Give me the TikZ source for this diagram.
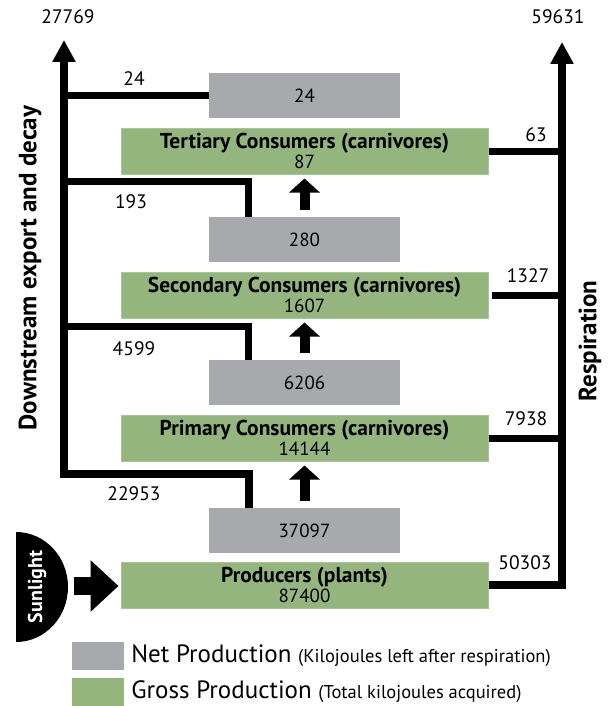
\documentclass[tikz,border=0pt]{standalone}
\usepackage{fontspec}
\setmainfont{PT Sans}
\usetikzlibrary{arrows.meta}
\definecolor{netgrey}{HTML}{A7A9AC}
\definecolor{grossgreen}{HTML}{95B57F}
\definecolor{grossedge}{HTML}{A8C596}
\begin{document}
\begin{tikzpicture}[x=1pt,y=-1pt,
  netbox/.style={fill=netgrey, minimum width=191pt, minimum height=45pt, inner sep=0pt, font=\fontsize{19}{22}\selectfont},
  grossbox/.style={fill=grossgreen, draw=grossedge, line width=1pt, minimum width=367pt, minimum height=46pt, inner sep=0pt, align=center, font=\fontsize{19}{20}\selectfont},
  conn/.style={line width=7pt, line join=miter},
  mainflow/.style={line width=8pt, line join=miter, -{Triangle[width=22pt,length=22pt]}},
  uparrow/.style={line width=10pt, -{Triangle[width=30pt,length=14pt]}},
  lbl/.style={font=\fontsize{19.5}{22}\selectfont, inner sep=0pt},
  sidelbl/.style={font=\fontsize{25}{28}\selectfont\bfseries, rotate=90, inner sep=0pt}
]
\useasboundingbox (0,0) rectangle (610,706);

% boxes
\node[netbox] (n24) at (304.5,95.5) {24};
\node[grossbox] (tert) at (304.5,151) {{\fontsize{21.5}{20}\selectfont\bfseries Tertiary Consumers (carnivores)}\\87};
\node[netbox] (n280) at (304.5,239.5) {280};
\node[grossbox] (sec) at (304.5,295) {{\fontsize{21.5}{20}\selectfont\bfseries Secondary Consumers (carnivores)}\\1607};
\node[netbox] (n6206) at (304.5,382.5) {6206};
\node[grossbox] (prim) at (304.5,438) {{\fontsize{21.5}{20}\selectfont\bfseries Primary Consumers (carnivores)}\\14144};
\node[netbox] (n37097) at (304.5,530.5) {37097};
\node[grossbox] (prod) at (304.5,585) {{\fontsize{21.5}{20}\selectfont\bfseries Producers (plants)}\\87400};

% coordinates
\coordinate (ltop) at (64,40);
\coordinate (lbend) at (64,474);
\coordinate (rtop) at (562,42);
\coordinate (l193) at (64,181);
\coordinate (l4599) at (64,326);

% up arrows
\draw[uparrow] ([yshift=7pt]n280.north) -- ([yshift=-4pt]tert.south);
\draw[uparrow] ([yshift=7pt]n6206.north) -- ([yshift=-4pt]sec.south);
\draw[uparrow] ([yshift=7pt]n37097.north) -- ([yshift=-4pt]prim.south);

% downstream export
\draw[mainflow] ([xshift=-56pt]n37097.north) |- (lbend) -- (ltop);
\draw[conn] (n24.west) -- (n24.west -| ltop);
\draw[conn] ([xshift=-56pt]n280.north) |- (l193);
\draw[conn] ([xshift=-56pt]n6206.north) |- (l4599);

% respiration
\draw[mainflow] (prod.east) -| (rtop);
\draw[conn] (tert.east) -- (tert.east -| rtop);
\draw[conn] ([xshift=3pt]sec.east) -- (sec.east -| rtop);
\draw[conn] (prim.east) -- (prim.east -| rtop);

% flow labels
\node[lbl] (t27769) at (68,17) {27769};
\node[lbl] (t59631) at (558,17) {59631};
\node[lbl] (t24) at (134,79) {24};
\node[lbl] (t63) at (536,135) {63};
\node[lbl] (t193) at (131,202) {193};
\node[lbl] (t1327) at (528,276) {1327};
\node[lbl] (t4599) at (134,349) {4599};
\node[lbl] (t7938) at (526,419) {7938};
\node[lbl] (t22953) at (134,494) {22953};
\node[lbl] (t50303) at (525,563) {50303};

\node[sidelbl] (down) at (30,268) {Downstream export and decay};
\node[sidelbl] (resp) at (590,341) {Respiration};

% sunlight
\fill (16,532) arc[start angle=-90, end angle=90, x radius=52, y radius=55] -- cycle;
\node[sidelbl, text=white, font=\fontsize{20}{22}\selectfont\bfseries] (sun) at (37,587) {Sunlight};
\coordinate (sunr) at (74,586);
\draw[line width=18pt, -{Triangle[width=50pt,length=28pt]}] (sunr) -- ([xshift=-2pt]prod.west |- sunr);

% legend
\node[fill=netgrey, minimum width=52pt, minimum height=28pt, inner sep=0pt] (legnet) at (98,656) {};
\node[fill=grossgreen, minimum width=52pt, minimum height=28pt, inner sep=0pt] (leggross) at (98,692) {};
\node[anchor=west, inner sep=0pt] (legnett) at ([xshift=7pt]legnet.east) {\fontsize{25}{28}\selectfont Net Production \fontsize{18.5}{20}\selectfont(Kilojoules left after respiration)};
\node[anchor=west, inner sep=0pt] (leggrosst) at ([xshift=7pt]leggross.east) {\fontsize{25}{28}\selectfont Gross Production \fontsize{18.5}{20}\selectfont(Total kilojoules acquired)};
\end{tikzpicture}
\end{document}
